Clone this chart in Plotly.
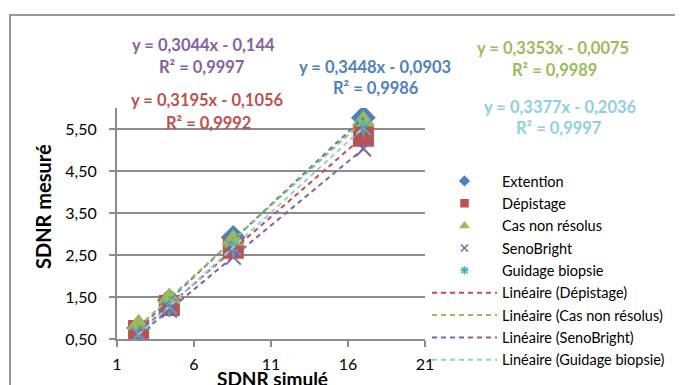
import plotly.graph_objects as go

# SDNR simulé (shared x values) and measured values per mode
x_simule = [2.4, 4.4, 8.55, 17.0]
extention = [0.76, 1.42, 2.92, 5.77]
depistage = [0.70, 1.30, 2.66, 5.33]
cas_non_resolus = [0.85, 1.47, 2.86, 5.69]
senobright = [0.60, 1.19, 2.45, 5.03]
guidage_biopsie = [0.62, 1.27, 2.68, 5.53]

noms = ["Extention", "Dépistage", "Cas non résolus", "SenoBright", "Guidage biopsie"]

# linear trendlines as printed on the chart
pentes = [0.3448, 0.3195, 0.3353, 0.3044, 0.3377]
ordonnees = [-0.0903, -0.1056, -0.0075, -0.144, -0.2036]
equations = ["y = 0,3448x - 0,0903", "y = 0,3195x - 0,1056", "y = 0,3353x - 0,0075",
             "y = 0,3044x - 0,144", "y = 0,3377x - 0,2036"]
r2_textes = ["R² = 0,9986", "R² = 0,9992", "R² = 0,9989", "R² = 0,9997", "R² = 0,9997"]

x_ticks = [1, 6, 11, 16, 21]
x_tick_labels = ["1", "6", "11", "16", "21"]
y_ticks = [0.5, 1.5, 2.5, 3.5, 4.5, 5.5]
y_tick_labels = ["0,50", "1,50", "2,50", "3,50", "4,50", "5,50"]

series = [extention, depistage, cas_non_resolus, senobright, guidage_biopsie]
couleurs = ["#4F81BD", "#C0504D", "#9BBB59", "#8064A2", "#4BACC6"]
couleurs_tendance = ["#4F81BD", "#C0504D", "#9BBB59", "#8064A2", "#8FCFE2"]
symboles = ["diamond", "square", "triangle-up", "x-thin-open", "x-thin-open"]
tailles = [17, 19, 18, 15, 15]

# the page body adds an 8px margin, so the figure is shifted by that much
OFF = 8
W, H = 683 - OFF, 385 - OFF
# plot area in window pixels
L, R, T, B = 117, 425, 108, 339


def px(x, y):
    return (x - L) / (R - L), (B - y) / (B - T)


fig = go.Figure()

# data markers
for nom, ys, c, s, t in zip(noms, series, couleurs, symboles, tailles):
    fig.add_trace(go.Scatter(
        x=x_simule, y=ys, mode="markers", name=nom, showlegend=False,
        marker=dict(symbol=s, size=t, color=c, line=dict(color=c, width=2)),
    ))
# vertical stroke of the star marker (Guidage biopsie)
fig.add_trace(go.Scatter(
    x=x_simule, y=guidage_biopsie, mode="markers", showlegend=False,
    marker=dict(symbol="line-ns-open", size=15, color=couleurs[4], line=dict(color=couleurs[4], width=2)),
))

# trendlines, drawn over the data range
x0, x1 = min(x_simule), max(x_simule)
for nom, a, b, c in zip(noms, pentes, ordonnees, couleurs_tendance):
    fig.add_trace(go.Scatter(
        x=[x0, x1], y=[a * x0 + b, a * x1 + b], mode="lines", showlegend=False,
        line=dict(color=c, width=2, dash="5px,4px"),
    ))

# legend entries
leg_symboles = ["diamond", "square", "triangle-up", "x-thin-open", "asterisk-open"]
for i, (nom, c, s) in enumerate(zip(noms, couleurs, leg_symboles)):
    fig.add_trace(go.Scatter(
        x=[None], y=[None], mode="markers", name=nom, legendgroup=f"g{i}",
        marker=dict(symbol=s, size=7, color=c, line=dict(color=c, width=1.5)),
    ))
for i, (nom, c) in enumerate(list(zip(noms, couleurs_tendance))[1:]):
    fig.add_trace(go.Scatter(
        x=[None], y=[None], mode="lines", name=f"Linéaire ({nom})", legendgroup=f"t{i}",
        line=dict(color=c, width=2, dash="5px,4px"),
    ))

# equation labels (pixel centres)
pos_eq = [(375, 67), (207, 100), (553, 48), (203, 45), (560, 107)]
pos_r2 = [(376, 88), (208, 123), (554, 70), (202, 67), (559, 128)]
couleurs_txt = ["#4F81BD", "#C0504D", "#9BBB59", "#8064A2", "#8FCFE2"]
annotations = []
for eq, r2, pe, pr, c in zip(equations, r2_textes, pos_eq, pos_r2, couleurs_txt):
    for txt, p in ((eq, pe), (r2, pr)):
        xp, yp = px(*p)
        annotations.append(dict(
            text=f"<b>{txt}</b>", x=xp, y=yp, xref="paper", yref="paper",
            xanchor="center", yanchor="middle", showarrow=False,
            font=dict(family="Lato", size=16.5, color=c),
        ))

xp, yp = px(272, 378)
annotations.append(dict(text="<b>SDNR simulé</b>", x=xp, y=yp, xref="paper", yref="paper",
                        showarrow=False, xanchor="center", yanchor="middle",
                        font=dict(family="Lato", size=19, color="black")))
xp, yp = px(43, 207)
annotations.append(dict(text="<b>SDNR mesuré</b>", x=xp, y=yp, xref="paper", yref="paper",
                        showarrow=False, textangle=-90, xanchor="center", yanchor="middle",
                        font=dict(family="Lato", size=20, color="black")))

# outer chart border
bx0, by0 = px(10, 15)
fig.add_shape(type="rect", xref="paper", yref="paper", x0=bx0, y0=by0, x1=3, y1=-1,
              line=dict(color="#999999", width=2), fillcolor="rgba(0,0,0,0)", layer="below")

lx, ly = px(427, 165)
fig.update_layout(
    width=W, height=H,
    margin=dict(l=L - OFF, r=683 - R, t=T - OFF, b=385 - B, autoexpand=False),
    paper_bgcolor="white", plot_bgcolor="white",
    showlegend=True,
    legend=dict(x=lx, y=ly, xanchor="left", yanchor="top", itemwidth=65,
                font=dict(family="Lato", size=14.5, color="black"),
                bgcolor="rgba(0,0,0,0)", tracegroupgap=0.5),
    annotations=annotations,
    font=dict(family="Lato"),
)
fig.update_xaxes(range=[1, 21], tickvals=x_ticks, ticktext=x_tick_labels,
                 showgrid=False, zeroline=False, showline=True, linecolor="#8c8c8c", linewidth=2,
                 ticks="outside", ticklen=6, tickcolor="#8c8c8c", tickwidth=2,
                 ticklabelstandoff=4, tickfont=dict(family="Lato", size=16, color="black"))
fig.update_yaxes(range=[0.5, 6.0], tickvals=y_ticks, ticktext=y_tick_labels,
                 showgrid=True, gridcolor="#8c8c8c", gridwidth=2, zeroline=False,
                 showline=True, linecolor="#8c8c8c", linewidth=2,
                 ticks="outside", ticklen=6, tickcolor="#8c8c8c", tickwidth=2,
                 ticklabelstandoff=9, tickfont=dict(family="Lato", size=16, color="black"))

fig.write_html("out.html")
